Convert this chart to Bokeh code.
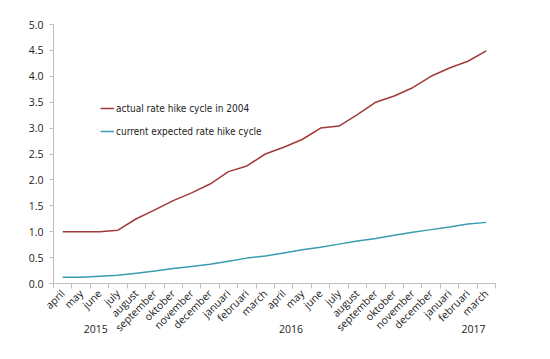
import math
from bokeh.plotting import figure
from bokeh.models import Range1d, FixedTicker, Legend, LegendItem, LinearAxis
from bokeh.embed import file_html
from bokeh.resources import INLINE

months = ["april", "may", "june", "july", "august", "september", "oktober",
          "november", "december", "januari", "februari", "march",
          "april", "may", "june", "july", "august", "september", "oktober",
          "november", "december", "januari", "februari", "march"]
actual_2004 = [1.0, 1.0, 1.0, 1.03, 1.25, 1.42, 1.6, 1.75, 1.92, 2.16, 2.27, 2.5,
               2.63, 2.78, 3.0, 3.04, 3.26, 3.5, 3.62, 3.78, 4.0, 4.16, 4.29, 4.49]
expected = [0.12, 0.12, 0.14, 0.16, 0.2, 0.24, 0.29, 0.33, 0.37, 0.43, 0.49, 0.53,
            0.59, 0.65, 0.7, 0.76, 0.82, 0.87, 0.93, 0.99, 1.04, 1.09, 1.15, 1.18]
years = ["2015", "2016", "2017"]
year_pos = [2.3, 12.9, 22.8]
y_ticks = [0.0, 0.5, 1.0, 1.5, 2.0, 2.5, 3.0, 3.5, 4.0, 4.5, 5.0]

xs = [i + 0.5 for i in range(len(months))]

p = figure(width=534, height=342, output_backend="svg", toolbar_location=None,
           x_range=Range1d(0, len(months)), y_range=Range1d(0, 5),
           min_border_left=53, min_border_right=39, min_border_top=24,
           min_border_bottom=0)
p.outline_line_color = None
p.xgrid.grid_line_color = None
p.ygrid.grid_line_color = None

RED = "#A33A3A"
BLUE = "#3A9CB0"
r1 = p.line(xs, actual_2004, line_color=RED, line_width=1.5)
r2 = p.line(xs, expected, line_color=BLUE, line_width=1.5)

TICK_FONT = "Open Sans"
AX = "#BFBFBF"
TXT = "#222222"

p.xaxis.ticker = FixedTicker(ticks=xs, minor_ticks=list(range(len(months) + 1)))
p.xaxis.major_label_overrides = {x: m for x, m in zip(xs, months)}
p.xaxis.major_label_orientation = math.pi / 4
p.xaxis.major_tick_line_color = None
p.xaxis.minor_tick_line_color = AX
p.xaxis.minor_tick_out = 5
p.xaxis.minor_tick_in = 0
p.xaxis.axis_line_color = AX
p.xaxis.major_label_text_font = TICK_FONT
p.xaxis.major_label_text_font_size = "10.5px"
p.xaxis.major_label_text_color = TXT
p.xaxis.major_label_standoff = 2

year_axis = LinearAxis(ticker=FixedTicker(ticks=year_pos, minor_ticks=[]),
                       major_label_overrides={x: y for x, y in zip(year_pos, years)},
                       axis_line_color=None, major_tick_line_color=None,
                       minor_tick_line_color=None, major_label_standoff=-24,
                       major_label_text_font=TICK_FONT,
                       major_label_text_font_size="10.5px",
                       major_label_text_color=TXT)
p.add_layout(year_axis, "below")

p.yaxis.ticker = FixedTicker(ticks=y_ticks)
p.yaxis.major_label_overrides = {t: f"{t:.1f}" for t in y_ticks}
p.yaxis.minor_tick_line_color = None
p.yaxis.major_tick_line_color = AX
p.yaxis.major_tick_out = 4
p.yaxis.major_tick_in = 0
p.yaxis.axis_line_color = AX
p.yaxis.major_label_text_font = TICK_FONT
p.yaxis.major_label_text_font_size = "10.5px"
p.yaxis.major_label_text_color = TXT
p.yaxis.major_label_standoff = 6

legend = Legend(items=[LegendItem(label="actual rate hike cycle in 2004", renderers=[r1]),
                       LegendItem(label="current expected rate hike cycle", renderers=[r2])],
                location=(47, 144), padding=0, margin=0, spacing=7,
                glyph_width=14, glyph_height=16, label_height=16, label_standoff=2,
                label_text_font="DejaVu Sans Condensed", label_text_font_size="10px",
                label_text_color=TXT, border_line_color=None,
                background_fill_alpha=0)
p.add_layout(legend)

open("out.html", "w").write(file_html(p, INLINE))
